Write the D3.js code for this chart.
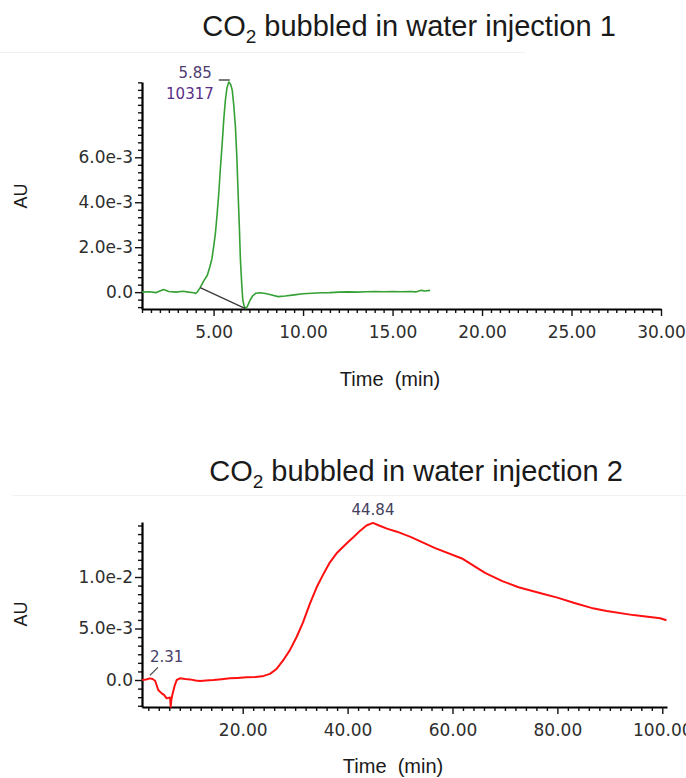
<!DOCTYPE html>
<html>
<head>
<meta charset="utf-8">
<script src="https://cdn.jsdelivr.net/npm/d3@7"></script>
<style>
  html, body { margin: 0; padding: 0; background: #ffffff; }
  svg { display: block; }
  .tick text { font-family: "DejaVu Sans", sans-serif; font-size: 17px; fill: #2e2e2e; }
</style>
</head>
<body>
<svg id="chart" width="686" height="778"></svg>
<script>
// ---- Injection 1 (green trace) ----
const inj1Time = [1.0, 1.4, 1.8, 2.2, 2.5, 2.9, 3.3, 3.6, 3.9, 4.0, 4.1, 4.25, 4.45, 4.65, 4.8, 4.91, 5.0,
  5.1, 5.2, 5.29, 5.38, 5.48, 5.57, 5.66, 5.75, 5.85, 5.95, 6.04, 6.13, 6.22, 6.3, 6.37, 6.44, 6.5,
  6.57, 6.63, 6.7, 6.78, 6.88, 6.96, 7.05, 7.2, 7.35, 7.6, 7.9, 8.2, 8.6, 9.0, 9.5, 10.0, 10.5, 11.0,
  11.5, 12.0, 12.5, 13.0, 13.5, 14.0, 14.5, 15.0, 15.5, 16.0, 16.3, 16.6, 16.8, 17.1];
const inj1AU = [0.0, 0.02, -0.02, 0.12, 0.03, 0.0, 0.04, 0.0, -0.03, -0.06, 0.02, 0.2, 0.5, 0.75, 1.15, 1.5, 2.0,
  2.6, 3.5, 4.4, 5.5, 6.6, 7.7, 8.55, 9.1, 9.35, 9.25, 9.0, 8.3, 7.36, 6.0, 4.4, 2.9, 1.43,
  0.4, -0.34, -0.6, -0.73, -0.65, -0.5, -0.34, -0.15, -0.05, -0.03, -0.06, -0.12, -0.2, -0.17, -0.12, -0.07, -0.05, -0.03,
  -0.02, 0.0, 0.01, 0.0, 0.02, 0.03, 0.02, 0.03, 0.02, 0.03, 0.01, 0.08, 0.05, 0.08].map(v => v * 1e-3);
const inj1Peak = { time: 5.85, area: 10317 };
const inj1Baseline = { startTime: 4.25, endTime: 6.78 };

// ---- Injection 2 (red trace) ----
const inj2Time = [0.8, 1.6, 2.31, 2.8, 3.3, 3.9, 4.56, 5.0, 5.5, 6.14, 6.2, 6.27, 6.4, 6.65, 7.0, 7.42, 8.05, 9.0,
  9.95, 11.0, 11.86, 13.0, 14.4, 16.0, 17.58, 19.0, 20.76, 22.5, 24.0, 25.2, 26.5, 27.7, 29.0, 30.3,
  31.5, 32.8, 34.1, 35.4, 36.6, 37.9, 39.9, 41.2, 42.4, 43.6, 44.84, 46.0, 47.5, 49.4, 52.0, 56.7,
  61.8, 66.2, 69.5, 72.6, 77.0, 80.0, 83.4, 86.5, 89.4, 94.5, 99.6, 100.8];
const inj2AU = [0.0, 0.05, 0.16, 0.1, -0.07, -0.97, -1.3, -1.45, -1.78, -1.7, -2.0, -2.6, -1.9, -1.3, -0.6, 0.0, 0.16, 0.1,
  0.06, -0.05, -0.1, -0.05, 0.0, 0.08, 0.16, 0.2, 0.26, 0.3, 0.4, 0.6, 1.1, 1.9, 2.9, 4.2,
  5.6, 7.4, 9.0, 10.3, 11.4, 12.3, 13.3, 13.9, 14.5, 15.0, 15.25, 15.0, 14.7, 14.4, 13.9, 12.8,
  11.8, 10.4, 9.6, 9.0, 8.4, 8.0, 7.45, 7.0, 6.7, 6.3, 6.0, 5.8].map(v => v * 1e-3);
const inj2Peaks = [2.31, 44.84];

// ---- Axis ticks and labels ----
const timeTicks1 = [5, 10, 15, 20, 25, 30];
const timeTicks2 = [20, 40, 60, 80, 100];
const auTicks1 = [0, 0.002, 0.004, 0.006];
const auTicks2 = [0, 0.005, 0.01];
const titles = ["bubbled in water injection 1", "bubbled in water injection 2"];

const svg = d3.select("#chart");
const fmtTime = d3.format(".2f");
const fmtAU = v => v === 0 ? "0.0" : d3.format(".1e")(v).replace("e-", "e-");

// faint separators above each title block
svg.append("line").attr("x1", 0).attr("x2", 525).attr("y1", 52.5).attr("y2", 52.5)
  .attr("stroke", "#efefef").attr("stroke-width", 1);
svg.append("line").attr("x1", 12).attr("x2", 686).attr("y1", 495.5).attr("y2", 495.5)
  .attr("stroke", "#f2f2f2").attr("stroke-width", 1);

function drawTitle(cx, baseline, rest) {
  const t = svg.append("text").attr("x", cx).attr("y", baseline)
    .attr("text-anchor", "middle")
    .style("font-family", "'Liberation Sans', Arial, sans-serif")
    .style("font-size", "29px").style("fill", "#1a1a1a");
  t.append("tspan").text("CO");
  t.append("tspan").attr("dy", 7).style("font-size", "19px").text("2");
  t.append("tspan").attr("dy", -7).text(" " + rest);
}

function drawPanel(cfg) {
  const x = d3.scaleLinear().domain(cfg.xDomain).range(cfg.xRange);
  const y = d3.scaleLinear().domain(cfg.yDomain).range(cfg.yRange);
  const g = svg.append("g");

  // minor / major ticks on the time axis
  const xMinor = d3.range(cfg.xMinorStart, cfg.xDomain[1] + 1e-9, cfg.xMinorStep)
    .filter(v => !cfg.xMajor.some(m => Math.abs(m - v) < 1e-6));
  g.append("g").attr("transform", `translate(0,${cfg.yRange[0]})`)
    .call(d3.axisBottom(x).tickValues(xMinor).tickSize(4).tickSizeOuter(0).tickFormat(""))
    .call(s => s.select(".domain").remove())
    .call(s => s.selectAll(".tick line").attr("stroke", "#111").attr("stroke-width", 1.4));
  g.append("g").attr("transform", `translate(0,${cfg.yRange[0]})`)
    .call(d3.axisBottom(x).tickValues(cfg.xMajor).tickSize(7).tickSizeOuter(0).tickPadding(10).tickFormat(fmtTime))
    .call(s => s.select(".domain").attr("stroke", "#000").attr("stroke-width", 2.2))
    .call(s => s.selectAll(".tick line").attr("stroke", "#111").attr("stroke-width", 1.4));

  // minor / major ticks on the AU axis
  const yMinor = d3.range(-40, 40).map(k => k * cfg.yMinorStep)
    .filter(v => v >= cfg.yDomain[0] && v <= cfg.yDomain[1])
    .filter(v => !cfg.yMajor.some(m => Math.abs(m - v) < 1e-9));
  g.append("g").attr("transform", `translate(${cfg.xRange[0]},0)`)
    .call(d3.axisLeft(y).tickValues(yMinor).tickSize(4).tickSizeOuter(0).tickFormat(""))
    .call(s => s.select(".domain").remove())
    .call(s => s.selectAll(".tick line").attr("stroke", "#111").attr("stroke-width", 1.4));
  g.append("g").attr("transform", `translate(${cfg.xRange[0]},0)`)
    .call(d3.axisLeft(y).tickValues(cfg.yMajor).tickSize(7).tickSizeOuter(0).tickPadding(2).tickFormat(fmtAU))
    .call(s => s.select(".domain").attr("stroke", "#000").attr("stroke-width", 2.2))
    .call(s => s.selectAll(".tick line").attr("stroke", "#111").attr("stroke-width", 1.4));

  // axis titles
  g.append("text").attr("x", cfg.xLabelX).attr("y", cfg.xLabelY)
    .attr("text-anchor", "middle").attr("xml:space", "preserve")
    .style("white-space", "pre")
    .style("font-family", "'Liberation Sans', Arial, sans-serif").style("font-size", "20px")
    .style("fill", "#1a1a1a").text("Time  (min)");
  g.append("text")
    .attr("transform", `translate(${cfg.yLabelX},${cfg.yLabelY}) rotate(-90)`)
    .attr("text-anchor", "middle").attr("dominant-baseline", "central")
    .style("font-family", "'Liberation Sans', Arial, sans-serif").style("font-size", "18px")
    .style("fill", "#1a1a1a").text("AU");

  // trace
  const pts = cfg.time.map((t, i) => [t, cfg.au[i]]);
  g.append("path").datum(pts)
    .attr("fill", "none").attr("stroke", cfg.color).attr("stroke-width", cfg.lineWidth)
    .attr("stroke-linejoin", "round")
    .attr("d", d3.line().x(d => x(d[0])).y(d => y(d[1])));

  return { x, y, g, pts };
}

function valueAt(pts, t) {
  for (let i = 1; i < pts.length; i++) {
    if (pts[i][0] >= t) {
      const [t0, v0] = pts[i - 1], [t1, v1] = pts[i];
      return v0 + (v1 - v0) * (t - t0) / (t1 - t0);
    }
  }
  return pts[pts.length - 1][1];
}

// ---------- Panel 1 ----------
drawTitle(409, 36, titles[0]);
const p1 = drawPanel({
  xDomain: [1, 30], xRange: [142, 661],
  yDomain: [-0.75e-3, 9.35e-3], yRange: [309, 82],
  xMajor: timeTicks1, xMinorStart: 1, xMinorStep: 0.5,
  yMajor: auTicks1, yMinorStep: 2e-3 / 6,
  xLabelX: 390, xLabelY: 386, yLabelX: 21, yLabelY: 196,
  time: inj1Time, au: inj1AU, color: "#35a135", lineWidth: 1.6
});
// integration baseline under the peak
p1.g.append("line")
  .attr("x1", p1.x(inj1Baseline.startTime)).attr("y1", p1.y(valueAt(p1.pts, inj1Baseline.startTime)))
  .attr("x2", p1.x(inj1Baseline.endTime)).attr("y2", p1.y(valueAt(p1.pts, inj1Baseline.endTime)))
  .attr("stroke", "#3c3c3c").attr("stroke-width", 1.4);
// apex marker and labels (retention time, area)
{
  const px = p1.x(inj1Peak.time), py = p1.y(valueAt(p1.pts, inj1Peak.time));
  p1.g.append("line").attr("x1", px - 10).attr("x2", px + 1).attr("y1", py - 2).attr("y2", py - 2)
    .attr("stroke", "#333").attr("stroke-width", 1.3);
  p1.g.append("text").attr("x", px - 17).attr("y", py - 4).attr("text-anchor", "end")
    .style("font-family", "'DejaVu Sans', sans-serif").style("font-size", "15px")
    .style("fill", "#4d3d6e").text(fmtTime(inj1Peak.time));
  p1.g.append("text").attr("x", px - 15).attr("y", py + 17).attr("text-anchor", "end")
    .style("font-family", "'DejaVu Sans', sans-serif").style("font-size", "15px")
    .style("fill", "#5a2f88").text(String(inj1Peak.area));
}

// ---------- Panel 2 ----------
drawTitle(416, 481, titles[1]);
const p2 = drawPanel({
  xDomain: [0.8, 100.9], xRange: [142, 667],
  yDomain: [-2.62e-3, 15.34e-3], yRange: [707, 522],
  xMajor: timeTicks2, xMinorStart: 2, xMinorStep: 2,
  yMajor: auTicks2, yMinorStep: 5e-3 / 6,
  xLabelX: 393, xLabelY: 773, yLabelX: 21, yLabelY: 614,
  time: inj2Time, au: inj2AU, color: "#ff1010", lineWidth: 2
});
{
  // first peak: label with a short leader line
  const t0 = inj2Peaks[0];
  const ax = p2.x(t0), ay = p2.y(valueAt(p2.pts, t0));
  p2.g.append("line").attr("x1", ax).attr("y1", ay - 3).attr("x2", ax + 8).attr("y2", ay - 11)
    .attr("stroke", "#444").attr("stroke-width", 1.2);
  p2.g.append("text").attr("x", ax).attr("y", ay - 16).attr("text-anchor", "start")
    .style("font-family", "'DejaVu Sans', sans-serif").style("font-size", "15px")
    .style("fill", "#47406a").text(fmtTime(t0));
  // main peak: centred label above the apex
  const t1 = inj2Peaks[1];
  const bx = p2.x(t1), by = p2.y(valueAt(p2.pts, t1));
  p2.g.append("text").attr("x", bx).attr("y", by - 8).attr("text-anchor", "middle")
    .style("font-family", "'DejaVu Sans', sans-serif").style("font-size", "15px")
    .style("fill", "#45405e").text(fmtTime(t1));
}
</script>
</body>
</html>
